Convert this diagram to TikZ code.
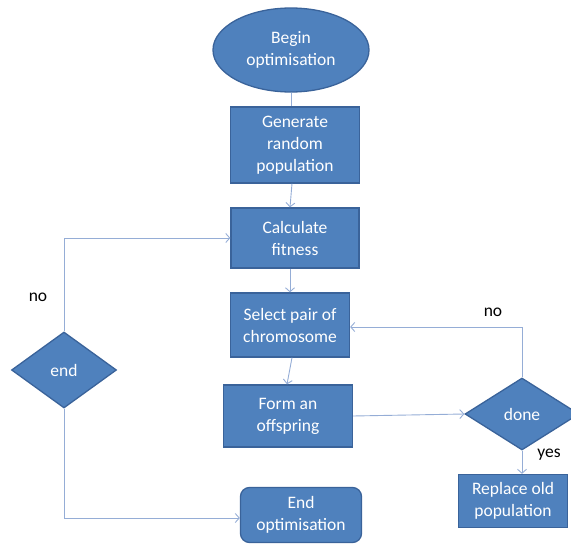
\documentclass[tikz,border=0pt]{standalone}
\usepackage{fontspec}
\setmainfont{Carlito}
\usetikzlibrary{arrows.meta,shapes.geometric,positioning}

\definecolor{boxfill}{HTML}{4F81BD}
\definecolor{boxline}{HTML}{3A639A}
\definecolor{linkcol}{HTML}{95ADD6}

\begin{document}
\begin{tikzpicture}[x=1pt, y=-1pt,
        box/.style={draw=boxline, fill=boxfill, line width=1.3pt, text=white,
                align=center, inner sep=0pt, font=\fontsize{17.5}{22}\selectfont},
        lbl/.style={text=black, font=\fontsize{17.5}{22}\selectfont},
        link/.style={draw=linkcol, line width=0.9pt, -{Straight Barb[length=4pt,width=9pt]}}]
        \useasboundingbox (0,0) rectangle (571,548);

        \node[box, ellipse, minimum width=156pt, minimum height=84pt] (begin) at (291,50) {Begin\\optimisation};
        \node[box, minimum width=129pt, minimum height=76pt] (gen) at (295,145) {Generate\\random\\population};
        \node[box, minimum width=128pt, minimum height=60pt] (calc) at (295,238) {Calculate\\fitness};
        \node[box, minimum width=119pt, minimum height=64pt] (sel) at (290,325) {Select pair of\\chromosome};
        \node[box, minimum width=129pt, minimum height=62pt] (form) at (288,416) {Form an\\offspring};
        \node[box, rounded corners=9pt, minimum width=121pt, minimum height=55pt] (stop) at (301,515) {End\\optimisation};
        \node[box, diamond, minimum width=105pt, minimum height=76pt] (endq) at (64,370) {end};
        \node[box, diamond, minimum width=114pt, minimum height=72pt] (done) at (522,414) {done};
        \node[box, minimum width=109pt, minimum height=53pt] (repl) at (513,501) {Replace old\\population};

        \node[lbl] (noleft) at (38,297) {no};
        \node[lbl] (noright) at (493,312) {no};
        \node[lbl] (yes) at (549,455) {yes};

        \draw[link, -] (begin.south) -- (begin.south |- gen.north);
        \draw[link] ([xshift=-3pt]gen.south) -- ([xshift=-5pt]calc.north);
        \draw[link] ([xshift=-5pt]calc.south) -- (sel.north);
        \draw[link] ([xshift=2pt]sel.south) -- ([xshift=-1pt]form.north);
        \draw[link] (form.east) -- (done.west);
        \draw[link] (done.north) |- ([yshift=-2pt]sel.east);
        \draw[link] (done.south) -- (done.south |- repl.north);
        \draw[link] (endq.north) |- (calc.west);
        \draw[link] (endq.south) |- ([yshift=-3pt]stop.west);
\end{tikzpicture}
\end{document}
